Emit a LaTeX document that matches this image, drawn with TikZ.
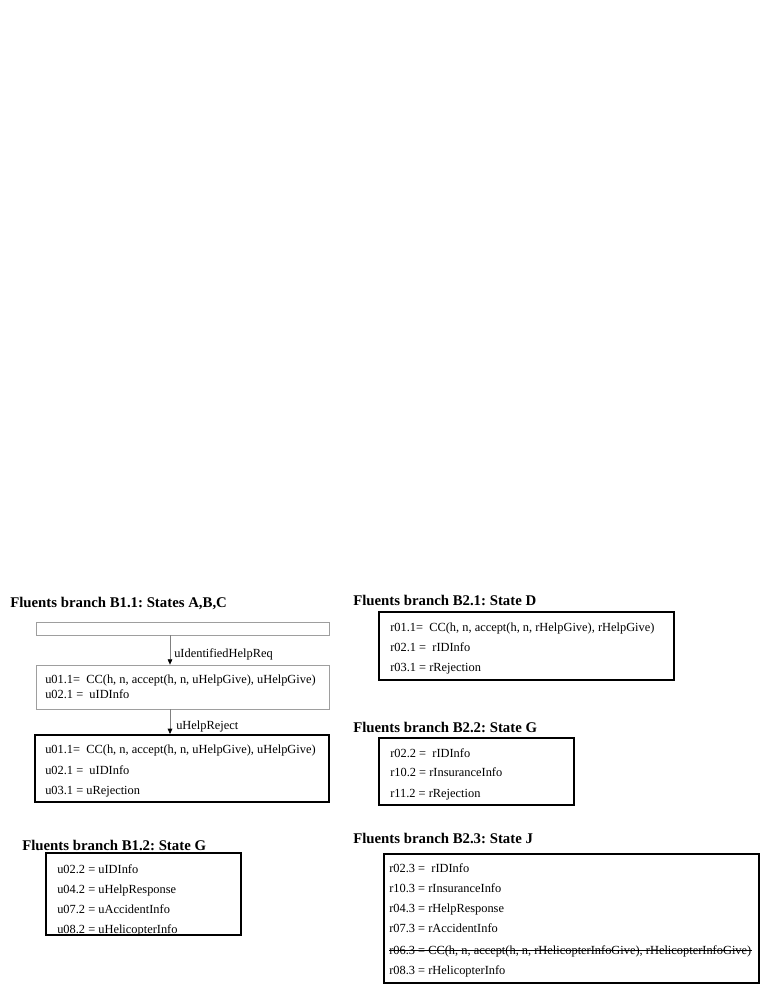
\documentclass[tikz,border=0pt]{standalone}
\usepackage{fontspec}
\setmainfont{Liberation Serif}
\usetikzlibrary{arrows.meta,fit}
\begin{document}
\frenchspacing
\begin{tikzpicture}[x=0.75pt,y=-0.75pt,
  graybox/.style={draw=black!38,line width=0.6pt,inner sep=0pt},
  blackbox/.style={draw=black,line width=1.5pt,inner sep=0pt},
  heading/.style={anchor=base west,inner sep=0pt,font=\fontsize{11.1}{13}\selectfont\bfseries},
  ln/.style={anchor=base west,inner sep=0pt,font=\fontsize{9.3}{11}\selectfont},
  lbl/.style={anchor=base west,inner sep=0pt,font=\fontsize{9.3}{11}\selectfont},
  arr/.style={draw=black!50,line width=0.5pt,-{Triangle[black,width=3.5pt,length=4pt]}}]
\fill[white] (0,0) rectangle (761,985);
\useasboundingbox (0,0) rectangle (761,985);
% ---- B1.1
\node[heading] (h11) at (10,607) {Fluents branch B1.1: States A,B,C};
\node[graybox,fit={(36,622) (329,635)}] (b1) {};
\node[graybox,fit={(36,665) (329,709)}] (b2) {};
\node[ln] (b2l1) at (45,683) {u01.1=\ \ CC(h, n, accept(h, n, uHelpGive), uHelpGive)};
\node[ln] (b2l2) at (45,698) {u02.1 =\ \ uIDInfo};
\node[blackbox,fit={(35,735) (329,802)}] (b3) {};
\node[ln] (b3l1) at (45,753) {u01.1=\ \ CC(h, n, accept(h, n, uHelpGive), uHelpGive)};
\node[ln] (b3l2) at (45,774) {u02.1 =\ \ uIDInfo};
\node[ln] (b3l3) at (45,794) {u03.1 = uRejection};
\coordinate (ax) at (170,0);
\draw[arr] (ax |- b1.south) -- (ax |- b2.north);
\draw[arr] (ax |- b2.south) -- (ax |- b3.north);
\node[lbl] (e1) at (174,657) {uIdentifiedHelpReq};
\node[lbl] (e2) at (176,729) {uHelpReject};
% ---- B1.2
\node[heading] (h12) at (22,850) {Fluents branch B1.2: State G};
\node[blackbox,fit={(46,853) (241,935)}] (b4) {};
\node[ln] (b4l1) at (57,873) {u02.2 = uIDInfo};
\node[ln] (b4l2) at (57,893) {u04.2 = uHelpResponse};
\node[ln] (b4l3) at (57,913) {u07.2 = uAccidentInfo};
\node[ln] (b4l4) at (57,933) {u08.2 = uHelicopterInfo};
% ---- B2.1
\node[heading] (h21) at (353,605) {Fluents branch B2.1: State D};
\node[blackbox,fit={(379,612) (674,680)}] (b5) {};
\node[ln] (b5l1) at (390,631) {r01.1=\ \ CC(h, n, accept(h, n, rHelpGive), rHelpGive)};
\node[ln] (b5l2) at (390,651) {r02.1 =\ \ rIDInfo};
\node[ln] (b5l3) at (390,671) {r03.1 = rRejection};
% ---- B2.2
\node[heading] (h22) at (353,732) {Fluents branch B2.2: State G};
\node[blackbox,fit={(379,738) (574,805)}] (b6) {};
\node[ln] (b6l1) at (390,757) {r02.2 =\ \ rIDInfo};
\node[ln] (b6l2) at (390,776) {r10.2 = rInsuranceInfo};
\node[ln] (b6l3) at (390,797) {r11.2 = rRejection};
% ---- B2.3
\node[heading] (h23) at (353,843) {Fluents branch B2.3: State J};
\node[blackbox,fit={(384,854) (759,983)}] (b7) {};
\node[ln] (b7l1) at (389,872) {r02.3 =\ \ rIDInfo};
\node[ln] (b7l2) at (389,892) {r10.3 = rInsuranceInfo};
\node[ln] (b7l3) at (389,912) {r04.3 = rHelpResponse};
\node[ln] (b7l4) at (389,932) {r07.3 = rAccidentInfo};
\node[ln] (b7l5) at (389,954) {r06.3 = CC(h, n, accept(h, n, rHelicopterInfoGive), rHelicopterInfoGive)};
\draw[line width=0.5pt] ([yshift=2.6pt]b7l5.base west) -- ([yshift=2.6pt]b7l5.base east);
\node[ln] (b7l6) at (389,974) {r08.3 = rHelicopterInfo};
\end{tikzpicture}
\end{document}
